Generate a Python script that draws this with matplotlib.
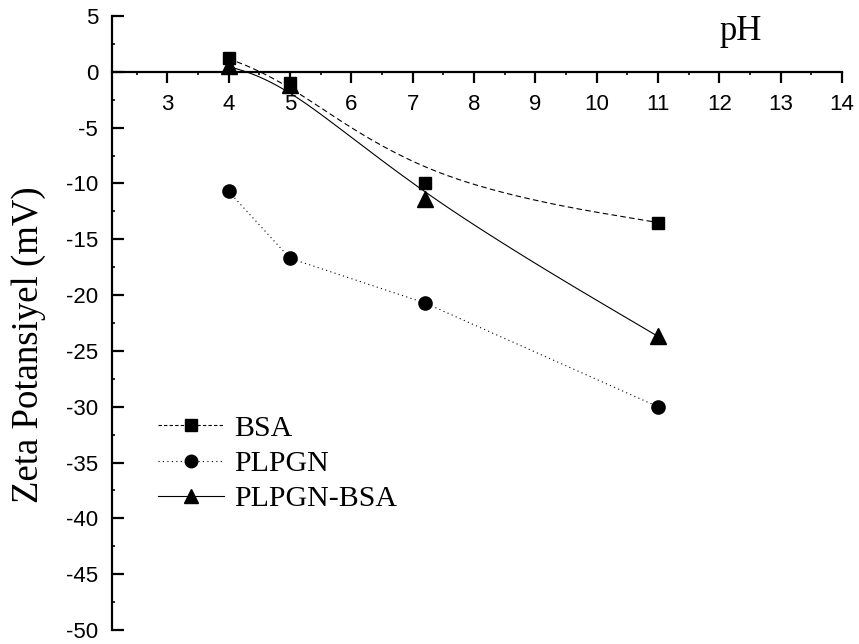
import numpy as np
import matplotlib
matplotlib.use("Agg")
import matplotlib.pyplot as plt
from matplotlib.ticker import MultipleLocator

ph = [4, 5, 7.2, 11]
bsa = [1.2, -1.0, -10.0, -13.5]
plpgn = [-10.7, -16.7, -20.7, -30.0]
plpgn_bsa = [0.5, -1.2, -11.4, -23.7]

x_ticks = [3, 4, 5, 6, 7, 8, 9, 10, 11, 12, 13, 14]
y_ticks = [-50, -45, -40, -35, -30, -25, -20, -15, -10, -5, 0, 5]


def bspline(xs, ys, n=60):
    P = np.column_stack([xs, ys]).astype(float)
    Q = np.vstack([P[0], P[0], P] + [P[-1], P[-1]])
    t = np.linspace(0, 1, n)
    B = np.column_stack([(1 - t) ** 3,
                         3 * t ** 3 - 6 * t ** 2 + 4,
                         -3 * t ** 3 + 3 * t ** 2 + 3 * t + 1,
                         t ** 3]) / 6.0
    pts = []
    for i in range(len(Q) - 3):
        seg = B @ Q[i:i + 4]
        pts.append(seg if i == 0 else seg[1:])
    pts = np.vstack(pts)
    return pts[:, 0], pts[:, 1]


fig = plt.figure(figsize=(8.59, 6.44), dpi=100)
ax = fig.add_axes([0.1304, 0.0217, 0.8499, 0.9534])

serif = ["Liberation Serif", "DejaVu Serif"]
sans = ["Liberation Sans", "DejaVu Sans"]

lw = 0.8
bx, by = bspline(ph, bsa)
ax.plot(bx, by, color="black", lw=lw, ls=(0, (5, 3)))
ax.plot(ph, bsa, ls="none", marker="s", ms=8.5, color="black")

ax.plot(ph, plpgn, color="black", lw=lw, ls=(0, (1, 3)))
ax.plot(ph, plpgn, ls="none", marker="o", ms=9.5, color="black")

sx, sy = bspline(ph, plpgn_bsa)
ax.plot(sx, sy, color="black", lw=lw, ls="-")
ax.plot(ph, plpgn_bsa, ls="none", marker="^", ms=11, color="black")

# legend proxies
h1, = ax.plot([], [], color="black", lw=lw, ls=(0, (3, 2)), marker="s", ms=8)
h2, = ax.plot([], [], color="black", lw=lw, ls=(0, (1, 3)), marker="o", ms=9)
h3, = ax.plot([], [], color="black", lw=lw, ls="-", marker="^", ms=10)
leg = ax.legend([h1, h2, h3], ["BSA", "PLPGN", "PLPGN-BSA"],
                loc="upper left", bbox_to_anchor=(158 / 859, 1 - 415 / 644),
                bbox_transform=fig.transFigure, frameon=False,
                prop={"family": serif, "size": 21.5}, handlelength=2.2,
                handletextpad=0.35, labelspacing=0.28, borderpad=0, borderaxespad=0)

ax.set_xlim(2.1, 14)
ax.set_ylim(-50, 5)

for s in ["top", "right"]:
    ax.spines[s].set_visible(False)
ax.spines["bottom"].set_position(("data", 0))
ax.spines["bottom"].set_bounds(2.1, 14)
ax.spines["left"].set_linewidth(1.6)
ax.spines["bottom"].set_linewidth(1.6)

ax.set_xticks(x_ticks)
ax.set_xticklabels([str(v) for v in x_ticks])
ax.set_yticks(y_ticks)
ax.set_yticklabels([str(v) for v in y_ticks])
ax.xaxis.set_minor_locator(MultipleLocator(0.5))
ax.yaxis.set_minor_locator(MultipleLocator(2.5))

ax.tick_params(axis="x", which="major", direction="out", length=8, width=1.6, pad=8,
               labelsize=16)
ax.tick_params(axis="x", which="minor", direction="out", length=2, width=1.2)
ax.tick_params(axis="y", which="major", direction="in", length=8.5, width=1.6, pad=10,
               labelsize=16)
ax.tick_params(axis="y", which="minor", direction="in", length=2, width=1.2)
for lab in ax.get_xticklabels() + ax.get_yticklabels():
    lab.set_fontfamily(sans)

ax.set_ylabel("Zeta Potansiyel (mV)", family=serif, fontsize=26.5)
ax.yaxis.set_label_coords(29 / 859, 1 - 345 / 644, transform=fig.transFigure)
ax.yaxis.label.set_verticalalignment("center")

ax.text(12.35, 3.6, "pH", family=serif, fontsize=25, ha="center", va="center")

fig.savefig("out.png", dpi=100)
